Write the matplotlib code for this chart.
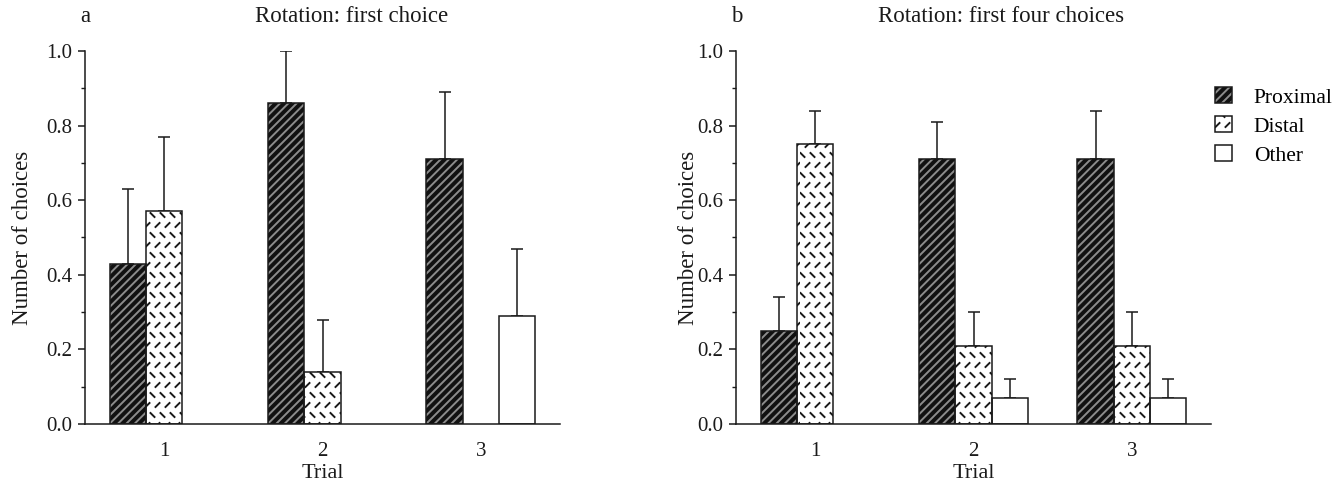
import numpy as np
import matplotlib
matplotlib.use('Agg')
import matplotlib.pyplot as plt
import matplotlib.hatch as mhatch
from matplotlib.path import Path
from matplotlib.patches import Patch
from matplotlib.legend_handler import HandlerTuple
from matplotlib.ticker import MultipleLocator

# ---------------- data ----------------
trials = ['1', '2', '3']
series = ['Proximal', 'Distal', 'Other']

# panel a: Rotation: first choice
a_proximal = [0.43, 0.86, 0.71]
a_proximal_err = [0.20, 0.14, 0.18]
a_distal = [0.57, 0.14, 0.0]
a_distal_err = [0.20, 0.14, 0.0]
a_other = [0.0, 0.0, 0.29]
a_other_err = [0.0, 0.0, 0.18]

# panel b: Rotation: first four choices
b_proximal = [0.25, 0.71, 0.71]
b_proximal_err = [0.09, 0.10, 0.13]
b_distal = [0.75, 0.21, 0.21]
b_distal_err = [0.09, 0.09, 0.09]
b_other = [0.0, 0.07, 0.07]
b_other_err = [0.0, 0.05, 0.05]

titles = ['Rotation: first choice', 'Rotation: first four choices']
panel_letters = ['a', 'b']


# ------------- dashed hatch pattern (replaces 'o') -------------
class DashHatch(mhatch.HatchPatternBase):
    def __init__(self, hatch, density):
        self.n = int(hatch.count('o') * density * 5 / 6)
        self.num_vertices = 2 * self.n * self.n

    def set_vertices_and_codes(self, vertices, codes):
        n = self.n
        ii, jj = np.meshgrid(np.arange(n), np.arange(n))
        ii = ii.ravel()
        jj = jj.ravel()
        # rows alternate dash orientation, odd rows shifted half a cell
        cx = (ii + 0.25 + 0.5 * (jj % 2)) / n
        cy = (jj + 0.5) / n
        sign = np.where(jj % 2 == 0, -1.0, 1.0)
        h = 0.2 / n
        vertices[0::2, 0] = cx - h
        vertices[0::2, 1] = cy - h * sign
        vertices[1::2, 0] = cx + h
        vertices[1::2, 1] = cy + h * sign
        codes[0::2] = Path.MOVETO
        codes[1::2] = Path.LINETO


mhatch._hatch_types[mhatch._hatch_types.index(mhatch.SmallCircles)] = DashHatch

INK = '#1a1a1a'
plt.rcParams['font.family'] = ['Liberation Serif', 'DejaVu Serif']
plt.rcParams['hatch.linewidth'] = 1.4

styles = {
    'Proximal': dict(face='#111111', hcol='#8c8c8c', hatch='////'),
    'Distal': dict(face='white', hcol=INK, hatch='oo'),
    'Other': dict(face='white', hcol=INK, hatch=None),
}

W = 0.229
offsets = {'Proximal': -W, 'Distal': 0.0, 'Other': W}

fig = plt.figure(figsize=(13.43, 4.87), dpi=100)
ax_a = fig.add_axes([85 / 1343, 1 - 424 / 487, 475 / 1343, 373 / 487])
ax_b = fig.add_axes([736 / 1343, 1 - 424 / 487, 475 / 1343, 373 / 487])

xpos = np.arange(1, len(trials) + 1)


def draw_series(ax, name, vals, errs):
    st = styles[name]
    idx = [i for i, v in enumerate(vals) if v > 0]
    xs = [xpos[i] + offsets[name] for i in idx]
    vs = [vals[i] for i in idx]
    es = [errs[i] for i in idx]
    ax.errorbar(xs, vs, yerr=[np.zeros(len(es)), es], fmt='none', ecolor=INK,
                elinewidth=1.1, capsize=4.5, capthick=1.1, zorder=1)
    ax.bar(xs, vs, width=W, facecolor=st['face'], edgecolor=st['hcol'],
           hatch=st['hatch'], linewidth=0, zorder=2)
    ax.bar(xs, vs, width=W, fill=False, edgecolor=INK, linewidth=1.1, zorder=3)


panels = [
    (ax_a, [a_proximal, a_distal, a_other], [a_proximal_err, a_distal_err, a_other_err]),
    (ax_b, [b_proximal, b_distal, b_other], [b_proximal_err, b_distal_err, b_other_err]),
]

for k, (ax, vals_list, errs_list) in enumerate(panels):
    for name, vals, errs in zip(series, vals_list, errs_list):
        draw_series(ax, name, vals, errs)
    ax.set_xlim(0.5, 3.5)
    ax.set_ylim(0, 1.0)
    ax.set_xticks(xpos)
    ax.set_xticklabels(trials)
    ax.yaxis.set_major_locator(MultipleLocator(0.2))
    ax.yaxis.set_minor_locator(MultipleLocator(0.1))
    ax.yaxis.set_major_formatter(matplotlib.ticker.FormatStrFormatter('%.1f'))
    for s in ['top', 'right']:
        ax.spines[s].set_visible(False)
    for s in ['left', 'bottom']:
        ax.spines[s].set_linewidth(1.1)
        ax.spines[s].set_color(INK)
    ax.tick_params(axis='x', length=0, pad=13, labelsize=15, colors=INK)
    ax.tick_params(axis='y', which='major', length=5, width=1.1, pad=4,
                   labelsize=15, colors=INK)
    ax.tick_params(axis='y', which='minor', length=3, width=1.0, colors=INK)
    ax.set_xlabel('Trial', fontsize=16, color=INK, labelpad=2)
    ax.set_ylabel('Number of choices', fontsize=16.5, color=INK)

ax_a.yaxis.set_label_coords(-0.11, 0.5)
ax_b.yaxis.set_label_coords(-0.078, 0.5)

fig.text(352 / 1343, 1 - 17 / 487, titles[0], fontsize=16.5, color=INK,
         ha='center', va='center')
fig.text(1001 / 1343, 1 - 17 / 487, titles[1], fontsize=16.5, color=INK,
         ha='center', va='center')
fig.text(85 / 1343, 1 - 17 / 487, panel_letters[0], fontsize=16.5, color=INK,
         ha='center', va='center')
fig.text(737 / 1343, 1 - 17 / 487, panel_letters[1], fontsize=16.5, color=INK,
         ha='center', va='center')

handles = []
for name in series:
    st = styles[name]
    handles.append((Patch(facecolor=st['face'], edgecolor=st['hcol'], hatch=st['hatch'], linewidth=0),
                    Patch(fill=False, edgecolor=INK, linewidth=1.1)))

fig.legend(handles=handles, labels=series, handler_map={tuple: HandlerTuple(ndivide=1)},
           loc='upper left', bbox_to_anchor=(1215 / 1343, 1 - 87 / 487),
           frameon=False, fontsize=15.5, handlelength=0.8, handleheight=0.8,
           handletextpad=1.0, labelspacing=0.38, borderpad=0, borderaxespad=0)

fig.savefig('out.png', dpi=100)
